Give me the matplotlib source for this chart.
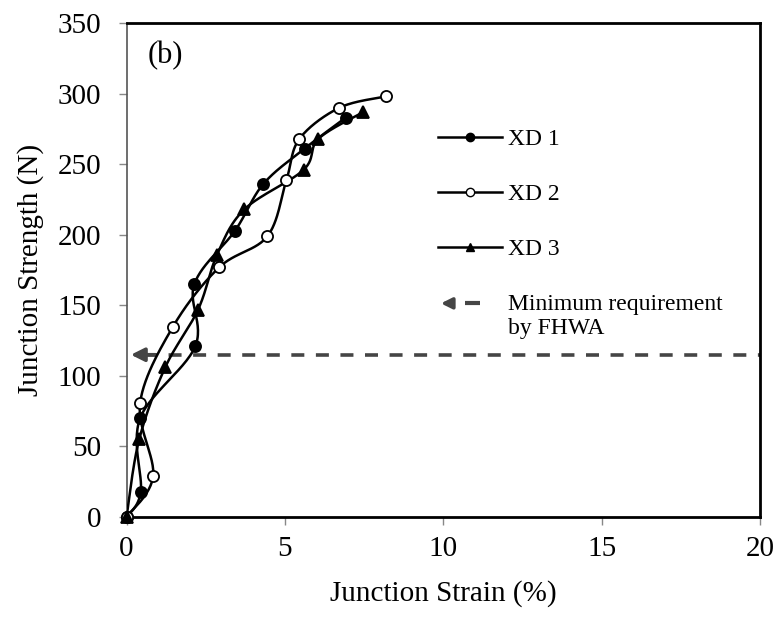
import numpy as np
import matplotlib.pyplot as plt
from matplotlib.lines import Line2D
from matplotlib.patches import FancyArrowPatch
from matplotlib.legend_handler import HandlerBase

plt.rcParams['font.family'] = ['Liberation Serif', 'DejaVu Serif']

# junction strain (%) / junction strength (N)
xd1_strain = [0.0, 0.45, 0.43, 2.17, 2.14, 3.43, 4.32, 5.62, 6.92]
xd1_strength = [0, 18, 70, 121, 165, 203, 236, 261, 283]

xd2_strain = [0.0, 0.84, 0.43, 1.47, 2.93, 4.45, 5.05, 5.46, 6.72, 8.18]
xd2_strength = [0, 29, 81, 135, 177, 199, 239, 268, 290, 298]

xd3_strain = [0.0, 0.40, 1.22, 2.26, 2.86, 3.72, 5.59, 6.06, 7.48]
xd3_strength = [0, 55, 106, 147, 186, 218, 246, 268, 287]

fhwa_min = 115

x_ticks = [0, 5, 10, 15, 20]
y_ticks = [0, 50, 100, 150, 200, 250, 300, 350]

GREY = '#454545'


def smooth(xs, ys, sx, sy, n=30):
    """Excel-like smoothed line (Catmull-Rom bezier) in screen scale"""
    p = np.column_stack([np.asarray(xs) * sx, np.asarray(ys) * sy])
    p = np.vstack([p[0], p, p[-1]])
    out = []
    t = np.linspace(0, 1, n)[:, None]
    for i in range(1, len(p) - 2):
        p0, p1, p2, p3 = p[i - 1], p[i], p[i + 1], p[i + 2]
        c1 = p1 + (p2 - p0) / 6
        c2 = p2 - (p3 - p1) / 6
        seg = ((1 - t) ** 3) * p1 + 3 * ((1 - t) ** 2) * t * c1 \
            + 3 * (1 - t) * t ** 2 * c2 + t ** 3 * p2
        out.append(seg)
    out = np.vstack(out)
    return out[:, 0] / sx, out[:, 1] / sy


class ArrowHandler(HandlerBase):
    def create_artists(self, legend, orig_handle, xdescent, ydescent,
                       width, height, fontsize, trans):
        y = height / 2 - ydescent + fontsize * 0.55
        arrow = FancyArrowPatch((width * 0.27 - xdescent, y), (-xdescent, y),
                                arrowstyle='-|>', mutation_scale=16,
                                color=GREY, lw=2.6, transform=trans)
        dash = Line2D([width * 0.42 - xdescent, width * 0.65 - xdescent], [y, y],
                      color=GREY, lw=3, solid_capstyle='butt',
                      transform=trans)
        return [arrow, dash]


fig = plt.figure(figsize=(7.79, 6.17), dpi=100)
ax = fig.add_axes([0.1624, 0.162, 0.8132, 0.8006])
ax.set_xlim(0, 20)
ax.set_ylim(0, 350)

# pixel scale for smoothing
bbox = ax.get_window_extent()
sx = bbox.width / 20
sy = bbox.height / 350

series = [
    (xd1_strain, xd1_strength, 'o', 'black', 'XD 1'),
    (xd2_strain, xd2_strength, 'o', 'white', 'XD 2'),
    (xd3_strain, xd3_strength, '^', 'black', 'XD 3'),
]
handles = []
for xs, ys, mk, fc, lab in series:
    cx, cy = smooth(xs, ys, sx, sy)
    ax.plot(cx, cy, color='black', lw=1.8, zorder=3)
    ax.plot(xs, ys, linestyle='none', marker=mk, markersize=8,
            markerfacecolor=fc, markeredgecolor='black', markeredgewidth=1.3,
            zorder=4, clip_on=False)
    handles.append(Line2D([], [], color='black', lw=1.8, marker=mk,
                          markersize=6, markerfacecolor=fc,
                          markeredgecolor='black', label=lab))

# FHWA minimum requirement line with arrow
ax.plot([0.55, 20], [fhwa_min, fhwa_min], color=GREY, lw=2.6,
        dashes=(3.6, 3.2), zorder=2)
ax.annotate('', xy=(0.05, fhwa_min), xytext=(1.0, fhwa_min),
            arrowprops=dict(arrowstyle='-|>', color=GREY, lw=2.6,
                            mutation_scale=20), zorder=2)

fhwa_handle = Line2D([], [], label='Minimum requirement\nby FHWA')
handles.append(fhwa_handle)

ax.legend(handles=handles, loc='upper left', bbox_to_anchor=(0.477, 0.805),
          frameon=False, fontsize=17, handlelength=2.7, handletextpad=0.25,
          labelspacing=1.42, borderaxespad=0,
          handler_map={fhwa_handle: ArrowHandler()})

ax.text(0.033, 0.935, '(b)', transform=ax.transAxes, fontsize=22,
        va='center', ha='left')

ax.set_xticks(x_ticks)
ax.set_yticks(y_ticks)
ax.tick_params(axis='both', labelsize=21, length=6, width=1,
               color='#888888', direction='out')
ax.tick_params(axis='y', pad=12)
ax.tick_params(axis='x', pad=8)
ax.set_xlabel('Junction Strain (%)', fontsize=21, labelpad=13)
ax.set_ylabel('Junction Strength (N)', fontsize=21, labelpad=10)

ax.spines['left'].set_color('#555555')
ax.spines['left'].set_linewidth(1.2)
for s in ['top', 'right', 'bottom']:
    ax.spines[s].set_color('black')
    ax.spines[s].set_linewidth(2)

fig.savefig('out.png', dpi=100)
